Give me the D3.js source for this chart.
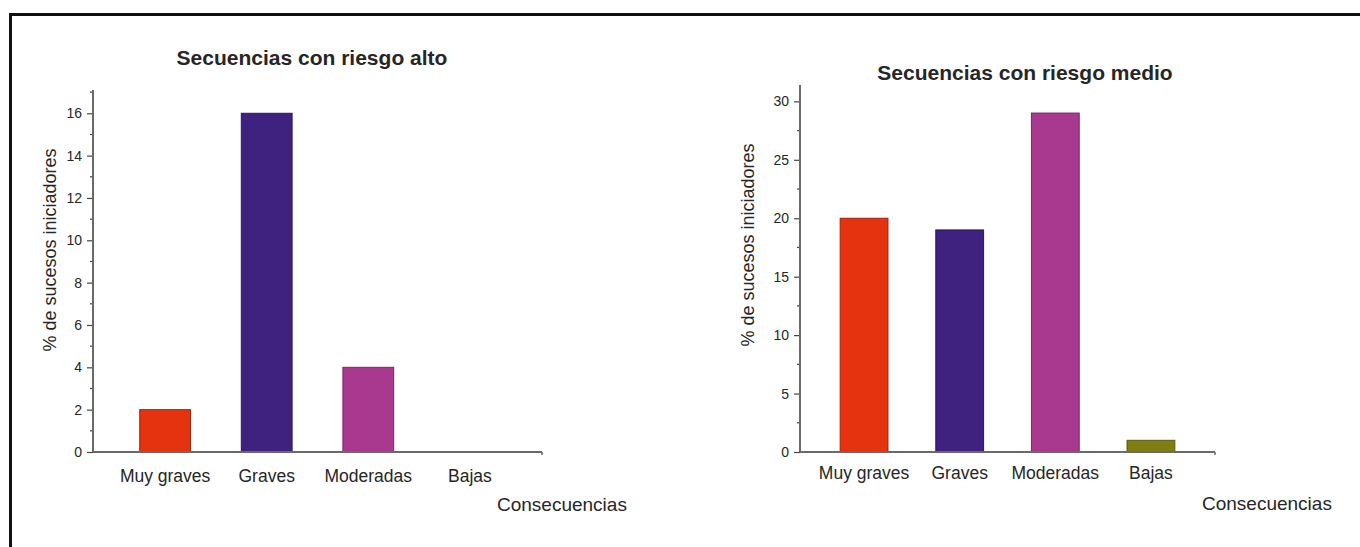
<!DOCTYPE html>
<html>
<head>
<meta charset="utf-8">
<script src="https://cdn.jsdelivr.net/npm/d3@7"></script>
<style>
  html, body { margin: 0; padding: 0; background: #fff; }
  svg { display: block; }
  text { font-family: "Liberation Sans", Arial, sans-serif; fill: #262626; }
</style>
</head>
<body>
<svg id="chart" width="1360" height="547"></svg>
<script>
// ---- Data ----
const categories = ["Muy graves", "Graves", "Moderadas", "Bajas"];
const colors = ["#e6330f", "#3f2180", "#a8398f", "#7e7e12"];
const strokes = ["#a3220a", "#2a1560", "#7a2668", "#5a5a0a"];

const titleHigh = "Secuencias con riesgo alto";
const valuesHigh = [2, 16, 4, 0];
const ticksHigh = [0, 2, 4, 6, 8, 10, 12, 14, 16];
const minorHigh = [1, 3, 5, 7, 9, 11, 13, 15, 17];

const titleMed = "Secuencias con riesgo medio";
const valuesMed = [20, 19, 29, 1];
const ticksMed = [0, 5, 10, 15, 20, 25, 30];
const minorMed = [2.5, 7.5, 12.5, 17.5, 22.5, 27.5];

const yLabel = "% de sucesos iniciadores";
const xLabel = "Consecuencias";

const svg = d3.select("#chart");

// outer frame
svg.append("rect")
  .attr("x", 10.5).attr("y", 14.5)
  .attr("width", 1400).attr("height", 600)
  .attr("fill", "none").attr("stroke", "#111").attr("stroke-width", 3);

function drawChart(cfg) {
  const g = svg.append("g");
  const x = d3.scaleBand().domain(categories)
    .range(cfg.xRange).paddingInner(0.5).paddingOuter(cfg.padOuter);
  const y = d3.scaleLinear().domain(cfg.yDomain).range(cfg.yRange);

  // bars
  g.selectAll("rect.bar").data(cfg.values).join("rect")
    .attr("class", "bar")
    .attr("x", (d, i) => x(categories[i]))
    .attr("y", d => y(d))
    .attr("width", x.bandwidth())
    .attr("height", d => y(0) - y(d))
    .attr("fill", (d, i) => colors[i])
    .attr("stroke", (d, i) => strokes[i])
    .attr("stroke-width", 1)
    .style("display", d => d > 0 ? null : "none");

  // y axis
  const yAxis = g.append("g").attr("transform", `translate(${cfg.xRange[0]},0)`)
    .call(d3.axisLeft(y).tickValues(cfg.ticks).tickSize(6).tickPadding(5).tickFormat(d3.format("d")));
  yAxis.select(".domain").remove();
  yAxis.selectAll(".tick line").attr("stroke", "#444").attr("stroke-width", 1.2);
  yAxis.selectAll(".tick text").style("font-size", "14px").attr("fill", "#2a2a2a")
    .style("font-family", '"Liberation Sans", Arial, sans-serif');
  // minor ticks
  g.selectAll("line.minor").data(cfg.minor.filter(v => v <= cfg.yDomain[1])).join("line")
    .attr("class", "minor")
    .attr("x1", cfg.xRange[0] - 3).attr("x2", cfg.xRange[0])
    .attr("y1", d => y(d)).attr("y2", d => y(d))
    .attr("stroke", "#444").attr("stroke-width", 1.2);
  // y axis line
  g.append("line")
    .attr("x1", cfg.xRange[0]).attr("x2", cfg.xRange[0])
    .attr("y1", y(cfg.yDomain[1])).attr("y2", y(0))
    .attr("stroke", "#6a6a6a").attr("stroke-width", 2);
  // x axis line
  g.append("line")
    .attr("x1", cfg.xRange[0]).attr("x2", cfg.xRange[1])
    .attr("y1", y(0)).attr("y2", y(0))
    .attr("stroke", "#6a6a6a").attr("stroke-width", 2);
  g.append("line")
    .attr("x1", cfg.xRange[1]).attr("x2", cfg.xRange[1])
    .attr("y1", y(0)).attr("y2", y(0) + 3)
    .attr("stroke", "#6a6a6a").attr("stroke-width", 1.5);

  // category labels
  g.selectAll("text.cat").data(categories).join("text")
    .attr("class", "cat")
    .attr("x", d => x(d) + x.bandwidth() / 2)
    .attr("y", cfg.catY)
    .attr("text-anchor", "middle")
    .style("font-size", "17.5px")
    .text(d => d);

  // title
  g.append("text")
    .attr("x", cfg.titleX).attr("y", cfg.titleY)
    .attr("text-anchor", "middle")
    .style("font-size", "21px").style("font-weight", "bold")
    .text(cfg.title);

  // x axis title
  g.append("text")
    .attr("x", cfg.xTitleX).attr("y", cfg.xTitleY)
    .style("font-size", "19px")
    .text(xLabel);

  // y axis title
  g.append("text")
    .attr("transform", `translate(${cfg.yTitleX},${cfg.yTitleY}) rotate(-90)`)
    .attr("text-anchor", "middle")
    .style("font-size", "18px")
    .text(yLabel);
}

drawChart({
  values: valuesHigh, ticks: ticksHigh, minor: minorHigh, title: titleHigh,
  xRange: [93, 542], padOuter: 0.46, yDomain: [0, 17.1], yRange: [452, 90],
  catY: 482, titleX: 312, titleY: 65, xTitleX: 497, xTitleY: 511,
  yTitleX: 56, yTitleY: 250
});

drawChart({
  values: valuesMed, ticks: ticksMed, minor: minorMed, title: titleMed,
  xRange: [800, 1215], padOuter: 0.42, yDomain: [0, 31.4], yRange: [452, 85],
  catY: 479, titleX: 1025, titleY: 80, xTitleX: 1202, xTitleY: 510,
  yTitleX: 754, yTitleY: 245
});
</script>
</body>
</html>
